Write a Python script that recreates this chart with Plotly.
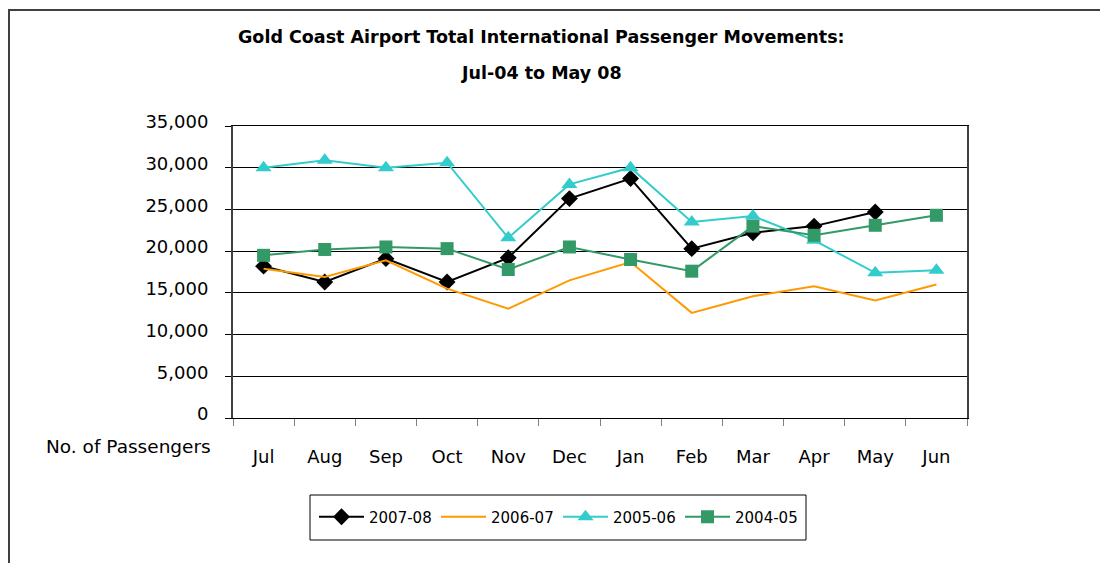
import plotly.graph_objects as go

# data
months = ['Jul', 'Aug', 'Sep', 'Oct', 'Nov', 'Dec', 'Jan', 'Feb', 'Mar', 'Apr', 'May', 'Jun']
y2007_08 = [18200, 16300, 19100, 16300, 19200, 26300, 28700, 20300, 22200, 23000, 24700]
y2006_07 = [17900, 16900, 18900, 15500, 13100, 16500, 18700, 12600, 14600, 15800, 14100, 16000]
y2005_06 = [30000, 30900, 30000, 30600, 21600, 28000, 30000, 23500, 24200, 21300, 17400, 17700]
y2004_05 = [19500, 20200, 20500, 20300, 17800, 20500, 19000, 17600, 23000, 21900, 23100, 24300]
y_ticks = [0, 5000, 10000, 15000, 20000, 25000, 30000, 35000]

FONT = 'DejaVu Sans'

# plot area in screen pixels (page body adds an 8px offset)
OFF = 8
L, R, T, B = 233, 967, 126, 418
W, H = 1100, 555
pw, ph = R - L, B - T


def px_x(x):
    return (x - L) / pw


def px_y(y):
    return (B - y) / ph


fig = go.Figure()

fig.add_trace(go.Scatter(
    x=months[:len(y2007_08)], y=y2007_08, name='2007-08', mode='lines+markers',
    line=dict(color='#000000', width=2),
    marker=dict(symbol='diamond', size=13, color='#000000'),
))
fig.add_trace(go.Scatter(
    x=months, y=y2006_07, name='2006-07', mode='lines',
    line=dict(color='#FF9900', width=2),
))
fig.add_trace(go.Scatter(
    x=months, y=y2005_06, name='2005-06', mode='lines+markers',
    line=dict(color='#33CCCC', width=2),
    marker=dict(symbol='triangle-up', size=14, color='#33CCCC'),
))
fig.add_trace(go.Scatter(
    x=months, y=y2004_05, name='2004-05', mode='lines+markers',
    line=dict(color='#339966', width=2),
    marker=dict(symbol='square', size=13, color='#339966'),
))

fig.update_layout(
    width=W, height=H,
    margin=dict(l=L - OFF, r=W + OFF - R, t=T - OFF, b=H + OFF - B),
    paper_bgcolor='white', plot_bgcolor='white',
    font=dict(family=FONT, size=18, color='#000000'),
    showlegend=True,
    legend=dict(
        orientation='h', x=px_x(558), xanchor='center', y=px_y(517), yanchor='middle',
        borderwidth=0, font=dict(size=15), bgcolor='rgba(0,0,0,0)',
        traceorder='normal', itemwidth=45, entrywidth=62,
    ),
    xaxis=dict(
        type='category', categoryorder='array', categoryarray=months,
        range=[-0.5, 11.5], showgrid=False, zeroline=False,
        showline=True, linecolor='#000000', linewidth=1, mirror=True,
        ticks='outside', tickson='boundaries', ticklen=7, tickcolor='#808080',
        ticklabelstandoff=22,
    ),
    yaxis=dict(
        range=[0, 35000], tickvals=y_ticks, tickformat=',', showgrid=True,
        gridcolor='#000000', gridwidth=1, zeroline=False,
        showline=True, linecolor='#404040', linewidth=2, mirror=True,
        ticks='outside', ticklen=6, tickcolor='#000000',
        ticklabelstandoff=13, ticklabelshift=-4,
    ),
    shapes=[
        dict(type='rect', xref='paper', yref='paper',
             x0=px_x(9), x1=px_x(1130), y0=px_y(10), y1=px_y(600),
             line=dict(color='#404040', width=2), layer='below'),
        dict(type='rect', xref='paper', yref='paper',
             x0=px_x(310), x1=px_x(806), y0=px_y(495), y1=px_y(540),
             line=dict(color='#000000', width=1), layer='below'),
    ],
    annotations=[
        dict(text='<b>Gold Coast Airport Total International Passenger Movements:</b>',
             xref='paper', yref='paper', x=px_x(541), y=px_y(37), yanchor='middle',
             showarrow=False, font=dict(size=17.5)),
        dict(text='<b>Jul-04 to May 08</b>',
             xref='paper', yref='paper', x=px_x(541), y=px_y(73), yanchor='middle',
             showarrow=False, font=dict(size=17.5)),
        dict(text='No. of Passengers', xref='paper', yref='paper',
             x=px_x(213), y=px_y(446), xanchor='right', yanchor='middle',
             showarrow=False, font=dict(size=18.5)),
    ],
)

fig.write_html('out.html')
